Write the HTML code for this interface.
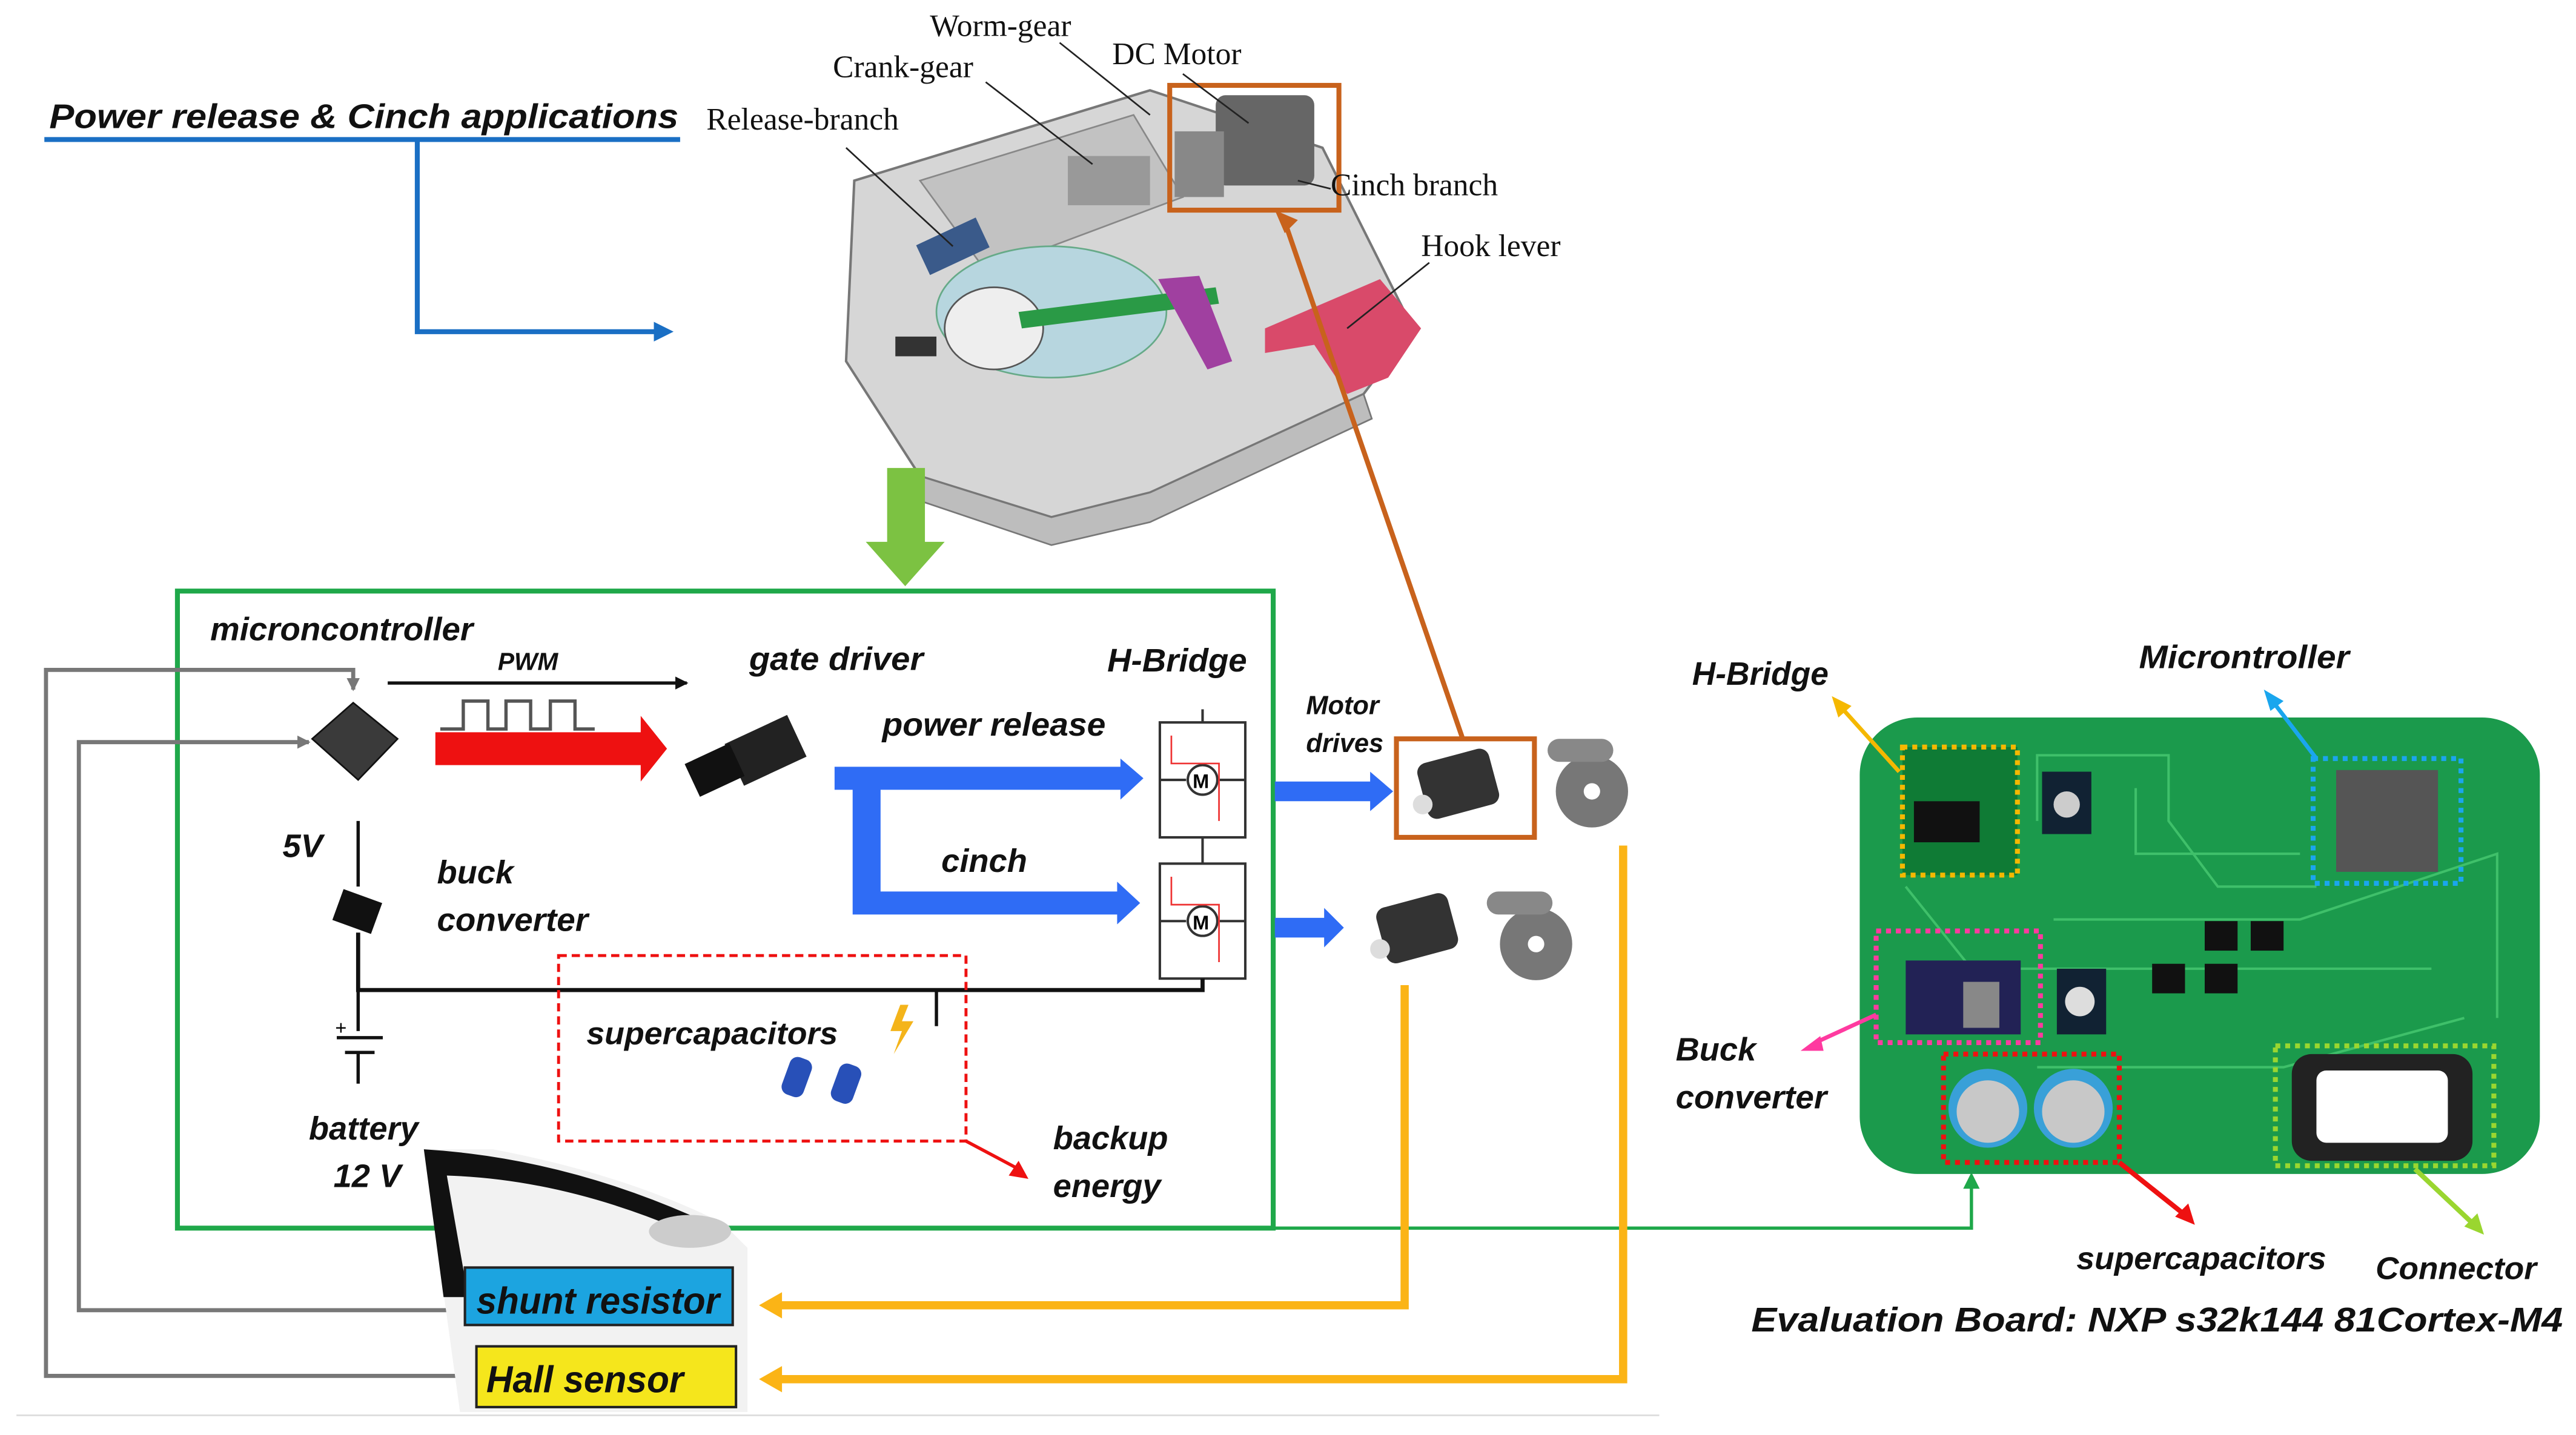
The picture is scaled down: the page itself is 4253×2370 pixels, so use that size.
<!DOCTYPE html>
<html><head><meta charset="utf-8"><style>
html,body{margin:0;padding:0;background:#fff;}
svg{display:block;}
.t{font-family:"Liberation Sans",sans-serif;font-style:italic;font-weight:bold;fill:#111;}
.s{font-family:"Liberation Serif",serif;fill:#111;font-size:19px;}
</style></head><body>
<svg width="4253" height="2370" viewBox="0 0 1568 874" preserveAspectRatio="none" xmlns="http://www.w3.org/2000/svg">
<defs>
<marker id="ag" markerWidth="8" markerHeight="8" refX="7" refY="4" orient="auto" markerUnits="userSpaceOnUse"><path d="M0,0L8,4L0,8z" fill="#777"/></marker>
<marker id="ak" markerWidth="8" markerHeight="8" refX="7" refY="4" orient="auto" markerUnits="userSpaceOnUse"><path d="M0,0L8,4L0,8z" fill="#111"/></marker>
</defs>
<rect width="1568" height="874" fill="#fff"/>
<!-- title -->
<text x="30" y="78" class="t" font-size="21" textLength="383" lengthAdjust="spacingAndGlyphs">Power release &amp; Cinch applications</text>
<line x1="27" y1="85" x2="414" y2="85" stroke="#1a6fc4" stroke-width="3"/>
<polyline points="254,85 254,202 400,202" fill="none" stroke="#1a6fc4" stroke-width="3"/>
<path d="M398,196L410,202L398,208z" fill="#1a6fc4"/>

<!-- mechanism -->
<polygon points="520,110 700,55 805,90 860,200 830,240 700,300 640,315 560,290 515,220" fill="#d6d6d6" stroke="#777" stroke-width="1.5"/>
<polygon points="560,290 640,315 700,300 830,240 835,255 700,318 640,332 560,305" fill="#bdbdbd" stroke="#777"/>
<polygon points="560,110 690,70 720,120 600,165" fill="#c2c2c2" stroke="#888"/>
<ellipse cx="640" cy="190" rx="70" ry="40" fill="#b7d6df" stroke="#6a8" />
<ellipse cx="605" cy="200" rx="30" ry="25" fill="#eee" stroke="#555"/>
<polygon points="620,190 740,175 742,185 622,200" fill="#2a9a46"/>
<polygon points="705,170 730,168 750,220 735,225" fill="#a040a0"/>
<path d="M770,200 L840,170 L865,200 L845,230 L820,240 L800,210 L770,215z" fill="#d94a6a"/>
<rect x="560" y="140" width="40" height="20" fill="#3a5a8a" transform="rotate(-25 580 150)"/>
<rect x="545" y="205" width="25" height="12" fill="#333"/>
<rect x="650" y="95" width="50" height="30" fill="#999"/>
<rect x="740" y="58" width="60" height="55" fill="#666" rx="6"/>
<rect x="715" y="80" width="30" height="40" fill="#888"/>
<rect x="712" y="52" width="103" height="76" fill="none" stroke="#c8621c" stroke-width="3"/>
<g stroke="#222" stroke-width="1">
<line x1="645" y1="26" x2="700" y2="70"/><line x1="600" y1="50" x2="665" y2="100"/>
<line x1="515" y1="90" x2="580" y2="150"/><line x1="810" y1="115" x2="790" y2="110"/>
<line x1="870" y1="160" x2="820" y2="200"/><line x1="720" y1="45" x2="760" y2="75"/>
</g>
<text x="566" y="22" class="s">Worm-gear</text>
<text x="507" y="47" class="s">Crank-gear</text>
<text x="677" y="39" class="s" font-size="21">DC Motor</text>
<text x="430" y="79" class="s">Release-branch</text>
<text x="810" y="119" class="s" font-size="21">Cinch branch</text>
<text x="865" y="156" class="s" font-size="20">Hook lever</text>

<!-- green down arrow -->
<path d="M540,285 H563 V330 H575 L551,357 L527,330 H540z" fill="#7cc242"/>

<!-- green box -->
<rect x="108" y="360" width="667" height="388" fill="none" stroke="#1fa84a" stroke-width="3"/>
<polyline points="776,748 1200,748 1200,722" fill="none" stroke="#1fa84a" stroke-width="2"/>
<path d="M1195,724L1200,714L1205,724z" fill="#1fa84a"/>

<polyline points="283,838 28,838 28,408 215,408 215,420" fill="none" stroke="#777" stroke-width="2.5" marker-end="url(#ag)"/>
<polyline points="283,798 48,798 48,452 188,452" fill="none" stroke="#777" stroke-width="2.5" marker-end="url(#ag)"/>

<text x="128" y="390" class="t" font-size="20" textLength="160" lengthAdjust="spacingAndGlyphs">microncontroller</text>
<polygon points="190,450 215,428 242,450 218,475" fill="#3a3a3a" stroke="#111"/>
<line x1="236" y1="416" x2="418" y2="416" stroke="#111" stroke-width="2" marker-end="url(#ak)"/>
<text x="303" y="408" class="t" font-size="15" font-style="normal">PWM</text>
<polyline points="268,444 282,444 282,427 297,427 297,444 308,444 308,427 323,427 323,444 335,444 335,427 350,427 350,444 362,444" fill="none" stroke="#555" stroke-width="2"/>
<path d="M265,446 H390 V436 L406,456 L390,476 V466 H265z" fill="#ee1111"/>
<text x="456" y="408" class="t" font-size="20" textLength="106" lengthAdjust="spacingAndGlyphs">gate driver</text>
<rect x="445" y="443" width="42" height="28" fill="#222" transform="rotate(-25 466 457)"/>
<rect x="420" y="458" width="30" height="22" fill="#111" transform="rotate(-25 435 469)"/>
<text x="674" y="409" class="t" font-size="20" textLength="85" lengthAdjust="spacingAndGlyphs">H-Bridge</text>
<text x="537" y="448" class="t" font-size="20" textLength="136" lengthAdjust="spacingAndGlyphs">power release</text>
<text x="573" y="531" class="t" font-size="20">cinch</text>
<path d="M508,467 H682 V462 L696,474 L682,487 V481 H536 V543 H680 V537 L694,550 L680,563 V557 H519 V481 H508z" fill="#2f6cf5"/>
<g fill="none" stroke="#333" stroke-width="1.5">
<rect x="706" y="440" width="52" height="70"/>
<rect x="706" y="526" width="52" height="70"/>
<line x1="706" y1="475" x2="722" y2="475"/><line x1="742" y1="475" x2="758" y2="475"/>
<line x1="706" y1="561" x2="722" y2="561"/><line x1="742" y1="561" x2="758" y2="561"/>
<circle cx="732" cy="475" r="9"/><circle cx="732" cy="561" r="9"/>
<line x1="732" y1="510" x2="732" y2="526"/><line x1="732" y1="596" x2="732" y2="604"/>
<line x1="732" y1="432" x2="732" y2="440"/>
</g>
<polyline points="713,448 713,465 742,465 742,500" fill="none" stroke="#e33" stroke-width="1"/>
<polyline points="713,534 713,551 742,551 742,586" fill="none" stroke="#e33" stroke-width="1"/>
<text x="726" y="480" font-size="12" font-weight="bold" font-family="Liberation Sans">M</text>
<text x="726" y="566" font-size="12" font-weight="bold" font-family="Liberation Sans">M</text>

<text x="172" y="522" class="t" font-size="20">5V</text>
<line x1="218" y1="500" x2="218" y2="540" stroke="#111" stroke-width="2"/>
<rect x="205" y="545" width="25" height="20" fill="#111" transform="rotate(20 217 555)"/>
<text x="266" y="538" class="t" font-size="20">buck</text>
<text x="266" y="567" class="t" font-size="20" textLength="92" lengthAdjust="spacingAndGlyphs">converter</text>
<polyline points="218,568 218,603 732,603 732,596" fill="none" stroke="#111" stroke-width="2.5"/>
<line x1="218" y1="603" x2="218" y2="628" stroke="#111" stroke-width="2"/>
<line x1="205" y1="632" x2="233" y2="632" stroke="#111" stroke-width="2"/>
<line x1="210" y1="641" x2="228" y2="641" stroke="#111" stroke-width="2"/>
<line x1="218" y1="641" x2="218" y2="660" stroke="#111" stroke-width="2"/>
<text x="204" y="630" font-size="12" font-family="Liberation Sans">+</text>
<text x="188" y="694" class="t" font-size="20">battery</text>
<text x="203" y="723" class="t" font-size="20">12 V</text>

<rect x="340" y="582" width="248" height="113" fill="none" stroke="#e11" stroke-width="1.8" stroke-dasharray="5,3"/>
<polyline points="588,695 620,712" fill="none" stroke="#e11" stroke-width="2"/>
<path d="M614,716L626,718L620,707z" fill="#e11"/>
<text x="357" y="636" class="t" font-size="19" textLength="153" lengthAdjust="spacingAndGlyphs">supercapacitors</text>
<path d="M548,612 L542,628 L549,628 L544,642 L556,622 L549,622 L553,612z" fill="#f4b41a"/>
<polyline points="570,603 570,625 M572,640 572,665 548,665" fill="none" stroke="#111" stroke-width="2"/>
<rect x="478" y="644" width="14" height="24" rx="5" fill="#2850b8" transform="rotate(20 485 656)"/>
<rect x="508" y="648" width="14" height="24" rx="5" fill="#2850b8" transform="rotate(20 515 660)"/>
<text x="641" y="700" class="t" font-size="20">backup</text>
<text x="641" y="729" class="t" font-size="20">energy</text>

<text x="795" y="435" class="t" font-size="16">Motor</text>
<text x="795" y="458" class="t" font-size="16">drives</text>
<path d="M776,476 H834 V470 L848,482 L834,494 V488 H776z" fill="#2f6cf5"/>
<path d="M776,559 H806 V553 L818,565 L806,577 V571 H776z" fill="#2f6cf5"/>
<rect x="850" y="450" width="84" height="60" fill="none" stroke="#c8621c" stroke-width="3"/>
<rect x="865" y="460" width="45" height="35" rx="6" fill="#333" transform="rotate(-15 887 477)"/>
<circle cx="866" cy="490" r="6" fill="#ddd"/>
<rect x="840" y="548" width="45" height="35" rx="6" fill="#333" transform="rotate(-15 862 565)"/>
<circle cx="840" cy="578" r="6" fill="#ddd"/>
<circle cx="969" cy="482" r="22" fill="#777"/><circle cx="969" cy="482" r="5" fill="#fff"/>
<rect x="942" y="450" width="40" height="14" rx="7" fill="#888"/>
<circle cx="935" cy="575" r="22" fill="#777"/><circle cx="935" cy="575" r="5" fill="#fff"/>
<rect x="905" y="543" width="40" height="14" rx="7" fill="#888"/>
<line x1="890" y1="449" x2="782" y2="135" stroke="#c8621c" stroke-width="3"/>
<path d="M776,128L782,142L790,134z" fill="#c8621c"/>

<polyline points="855,600 855,795 470,795" fill="none" stroke="#fbb416" stroke-width="5"/>
<path d="M476,787L462,795L476,803z" fill="#fbb416"/>
<polyline points="988,515 988,840 470,840" fill="none" stroke="#fbb416" stroke-width="5"/>
<path d="M476,832L462,840L476,848z" fill="#fbb416"/>

<path d="M258,700 L300,700 Q380,715 440,745 L455,760 L455,860 L280,860 Z" fill="#f2f2f2"/>
<path d="M258,700 Q340,705 420,740 L412,748 Q340,718 272,716 L285,790 L270,790 Z" fill="#111"/>
<ellipse cx="420" cy="750" rx="25" ry="10" fill="#ccc"/>
<rect x="283" y="772" width="163" height="35" fill="#1ca4e0" stroke="#222" stroke-width="1.5"/>
<text x="290" y="800" class="t" font-size="23" textLength="148" lengthAdjust="spacingAndGlyphs">shunt resistor</text>
<rect x="290" y="820" width="158" height="37" fill="#f5e61c" stroke="#222" stroke-width="1.5"/>
<text x="296" y="848" class="t" font-size="23" textLength="120" lengthAdjust="spacingAndGlyphs">Hall sensor</text>
<line x1="10" y1="862" x2="1010" y2="862" stroke="#ddd" stroke-width="1"/>

<rect x="1132" y="437" width="414" height="278" rx="35" fill="#1b9a4c"/>
<g fill="none" stroke="#3fc06a" stroke-width="1.5">
<polyline points="1240,500 1240,460 1320,460 1320,500 1350,540 1410,540"/>
<polyline points="1240,650 1390,650 1500,620"/>
<polyline points="1250,560 1400,560 1520,520 1520,620"/>
<polyline points="1300,480 1300,520 1400,520"/>
<polyline points="1160,540 1200,590 1480,590"/>
</g>
<rect x="1158" y="455" width="70" height="78" fill="#0f7b35" stroke="#f5b800" stroke-width="3" stroke-dasharray="3,3"/>
<rect x="1165" y="488" width="40" height="25" fill="#111"/>
<rect x="1408" y="462" width="90" height="76" fill="none" stroke="#1aa6ee" stroke-width="3" stroke-dasharray="3,3"/>
<rect x="1422" y="469" width="62" height="62" fill="#555"/>
<rect x="1243" y="470" width="30" height="38" fill="#123"/>
<circle cx="1258" cy="490" r="8" fill="#ccc"/>
<rect x="1142" y="567" width="100" height="68" fill="none" stroke="#ff3aa0" stroke-width="3" stroke-dasharray="3,3"/>
<rect x="1160" y="585" width="70" height="45" fill="#225"/>
<rect x="1195" y="598" width="22" height="28" fill="#888"/>
<rect x="1252" y="590" width="30" height="40" fill="#123"/>
<circle cx="1266" cy="610" r="9" fill="#ddd"/>
<rect x="1342" y="561" width="20" height="18" fill="#111"/><rect x="1370" y="561" width="20" height="18" fill="#111"/>
<rect x="1310" y="587" width="20" height="18" fill="#111"/><rect x="1342" y="587" width="20" height="18" fill="#111"/>
<rect x="1183" y="642" width="107" height="66" fill="none" stroke="#ee1111" stroke-width="3" stroke-dasharray="3,3"/>
<circle cx="1210" cy="675" r="24" fill="#39a0d8"/><circle cx="1210" cy="677" r="19" fill="#c8c8c8"/>
<circle cx="1262" cy="675" r="24" fill="#39a0d8"/><circle cx="1262" cy="677" r="19" fill="#c8c8c8"/>
<rect x="1385" y="637" width="133" height="73" fill="none" stroke="#9ad630" stroke-width="3" stroke-dasharray="3,3"/>
<rect x="1395" y="642" width="110" height="65" rx="12" fill="#222"/>
<rect x="1410" y="652" width="80" height="44" rx="6" fill="#fff"/>
<text x="1030" y="417" class="t" font-size="20" textLength="83" lengthAdjust="spacingAndGlyphs">H-Bridge</text>
<line x1="1120" y1="430" x2="1156" y2="470" stroke="#f5b800" stroke-width="2.5"/>
<path d="M1115,424L1127,430L1119,437z" fill="#f5b800"/>
<text x="1302" y="407" class="t" font-size="20" textLength="128" lengthAdjust="spacingAndGlyphs">Microntroller</text>
<line x1="1410" y1="462" x2="1384" y2="428" stroke="#1aa6ee" stroke-width="2.5"/>
<path d="M1378,420L1382,433L1390,427z" fill="#1aa6ee"/>
<text x="1020" y="646" class="t" font-size="20">Buck</text>
<text x="1020" y="675" class="t" font-size="20" textLength="92" lengthAdjust="spacingAndGlyphs">converter</text>
<line x1="1142" y1="618" x2="1105" y2="635" stroke="#ff3aa0" stroke-width="2.5"/>
<path d="M1096,640L1108,631L1110,640z" fill="#ff3aa0"/>
<line x1="1290" y1="708" x2="1330" y2="740" stroke="#ee1111" stroke-width="3"/>
<path d="M1336,746L1324,741L1332,733z" fill="#ee1111"/>
<line x1="1470" y1="712" x2="1505" y2="745" stroke="#9ad630" stroke-width="3"/>
<path d="M1512,752L1500,747L1508,739z" fill="#9ad630"/>
<text x="1264" y="773" class="t" font-size="19" textLength="152" lengthAdjust="spacingAndGlyphs">supercapacitors</text>
<text x="1446" y="779" class="t" font-size="19" textLength="98" lengthAdjust="spacingAndGlyphs">Connector</text>
<text x="1066" y="811" class="t" font-size="21" textLength="494" lengthAdjust="spacingAndGlyphs">Evaluation Board: NXP s32k144 81Cortex-M4</text>
</svg>
</body></html>
